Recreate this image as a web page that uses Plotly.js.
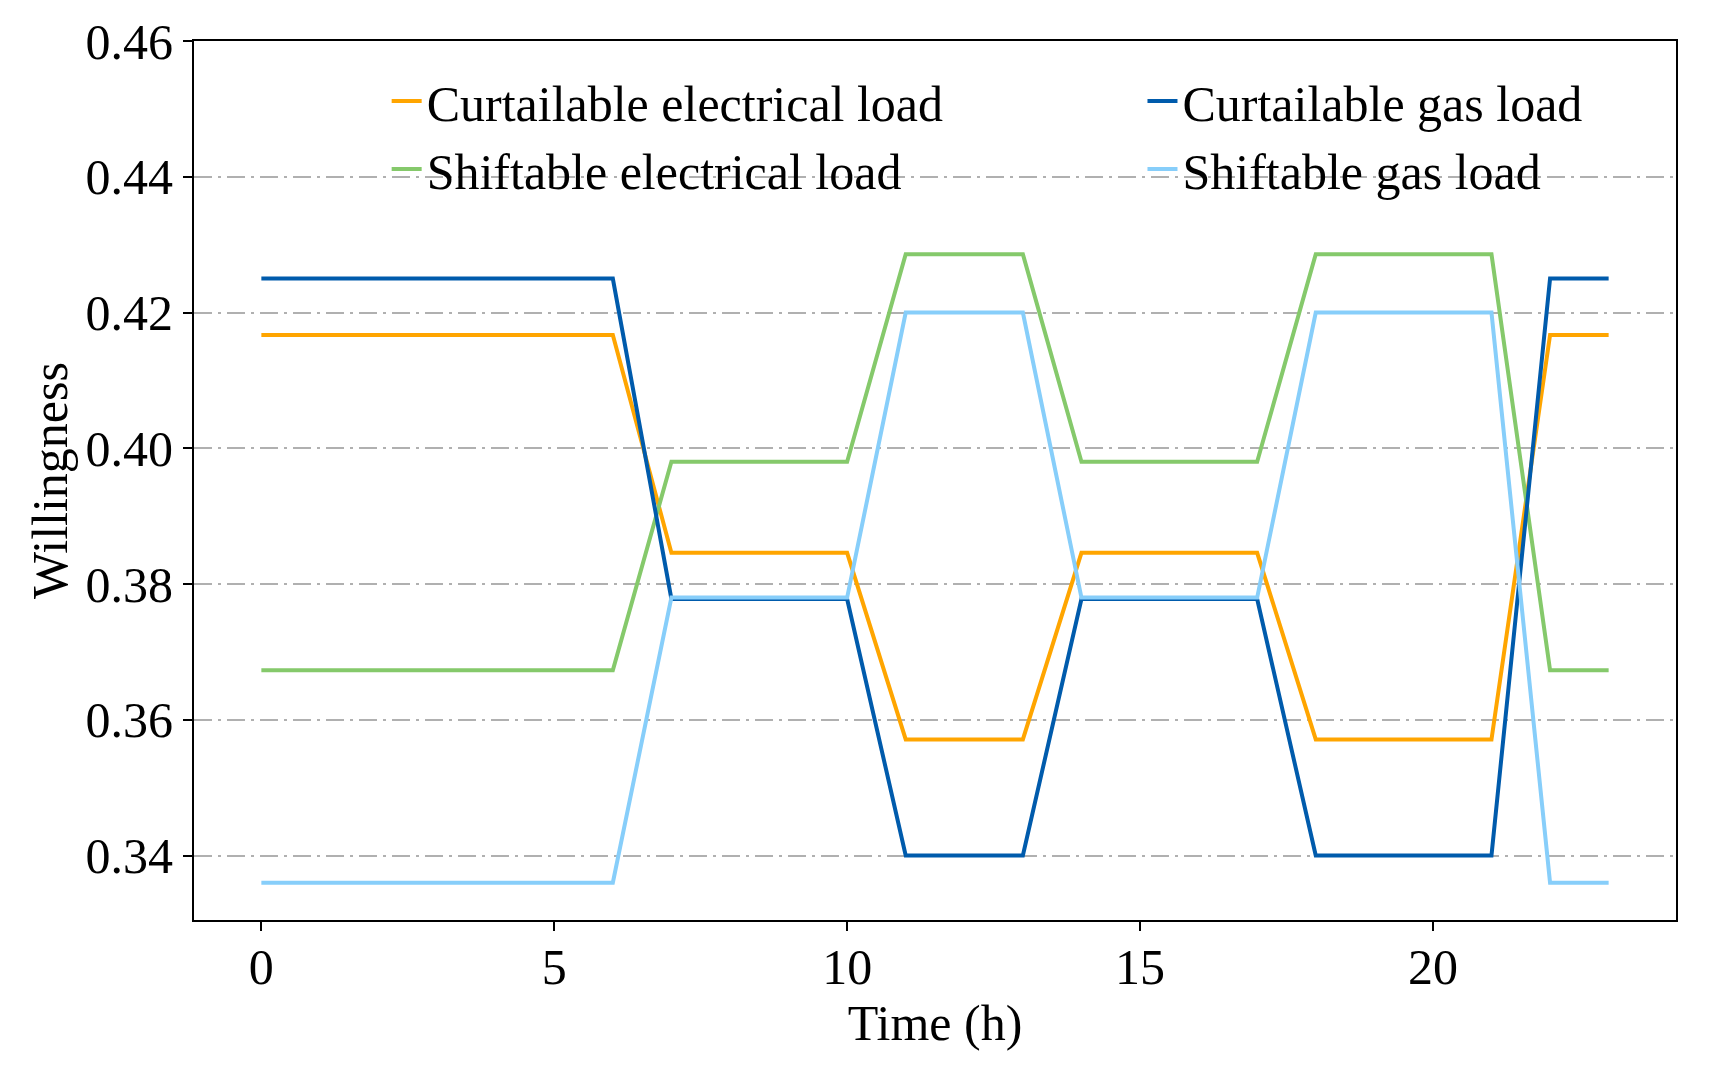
<!DOCTYPE html>
<html>
<head>
<meta charset="utf-8">
<script src="https://cdn.plot.ly/plotly-3.0.1.min.js"></script>
<style>html,body{margin:0;padding:0;background:#fff;}#chart{width:1722px;height:1073px;}</style>
</head>
<body>
<div id="chart"></div>
<script>
const hours = [0,1,2,3,4,5,6,7,8,9,10,11,12,13,14,15,16,17,18,19,20,21,22,23];
const curtailableElectrical = [0.4167,0.4167,0.4167,0.4167,0.4167,0.4167,0.4167,0.3846,0.3846,0.3846,0.3846,0.3571,0.3571,0.3571,0.3846,0.3846,0.3846,0.3846,0.3571,0.3571,0.3571,0.3571,0.4167,0.4167];
const shiftableElectrical = [0.3673,0.3673,0.3673,0.3673,0.3673,0.3673,0.3673,0.3980,0.3980,0.3980,0.3980,0.4286,0.4286,0.4286,0.3980,0.3980,0.3980,0.3980,0.4286,0.4286,0.4286,0.4286,0.3673,0.3673];
const curtailableGas = [0.4250,0.4250,0.4250,0.4250,0.4250,0.4250,0.4250,0.3778,0.3778,0.3778,0.3778,0.3400,0.3400,0.3400,0.3778,0.3778,0.3778,0.3778,0.3400,0.3400,0.3400,0.3400,0.4250,0.4250];
const shiftableGas = [0.3360,0.3360,0.3360,0.3360,0.3360,0.3360,0.3360,0.3780,0.3780,0.3780,0.3780,0.4200,0.4200,0.4200,0.3780,0.3780,0.3780,0.3780,0.4200,0.4200,0.4200,0.4200,0.3360,0.3360];
const seriesNames = ["Curtailable electrical load","Shiftable electrical load","Curtailable gas load","Shiftable gas load"];
const xTicks = [0,5,10,15,20];
const yTicks = [0.34,0.36,0.38,0.40,0.42,0.44,0.46];

const font = "Liberation Serif, Times New Roman, serif";
const colors = ["#FFA500","#85C96B","#005BAC","#87CEFA"];
const data = [
  {x:hours,y:curtailableElectrical,name:seriesNames[0],legend:"legend",line:{color:colors[0],width:4}},
  {x:hours,y:shiftableElectrical,name:seriesNames[1],legend:"legend",line:{color:colors[1],width:4}},
  {x:hours,y:curtailableGas,name:seriesNames[2],legend:"legend2",line:{color:colors[2],width:4}},
  {x:hours,y:shiftableGas,name:seriesNames[3],legend:"legend2",line:{color:colors[3],width:4}}
].map(t=>Object.assign({type:"scatter",mode:"lines"},t));

const legendBase = {
  bgcolor:"rgba(0,0,0,0)", borderwidth:0,
  font:{family:font,size:50,color:"#000"},
  yanchor:"top", y:0.976, xanchor:"left", orientation:"v", tracegroupgap:0
};
const layout = {
  width:1722, height:1073,
  margin:{l:194,r:46,t:41,b:153},
  paper_bgcolor:"#fff", plot_bgcolor:"#fff",
  font:{family:font,size:50,color:"#000"},
  showlegend:true,
  legend:Object.assign({},legendBase,{x:0.130}),
  legend2:Object.assign({},legendBase,{x:0.640}),
  xaxis:{
    range:[-1.15,24.15], tickvals:xTicks, ticktext:xTicks.map(String),
    showgrid:false, zeroline:false,
    showline:true, mirror:true, linecolor:"#000", linewidth:2,
    ticks:"outside", ticklen:9, tickwidth:2, tickcolor:"#000",
    ticklabelstandoff:-7,
    tickfont:{family:font,size:50},
    title:{text:"Time (h)", font:{family:font,size:50}, standoff:4}
  },
  yaxis:{
    range:[0.3305,0.46], tickvals:yTicks, ticktext:yTicks.map(v=>v.toFixed(2)),
    showgrid:true, gridcolor:"#b0b0b0", gridwidth:2, griddash:"18px,6px,3px,6px",
    zeroline:false,
    showline:true, mirror:true, linecolor:"#000", linewidth:2,
    ticks:"outside", ticklen:9, tickwidth:2, tickcolor:"#000",
    tickfont:{family:font,size:50},
    title:{text:"Willingness", font:{family:font,size:50}, standoff:2}
  }
};
Plotly.newPlot("chart", data, layout, {displayModeBar:false, staticPlot:true});
</script>
</body>
</html>
